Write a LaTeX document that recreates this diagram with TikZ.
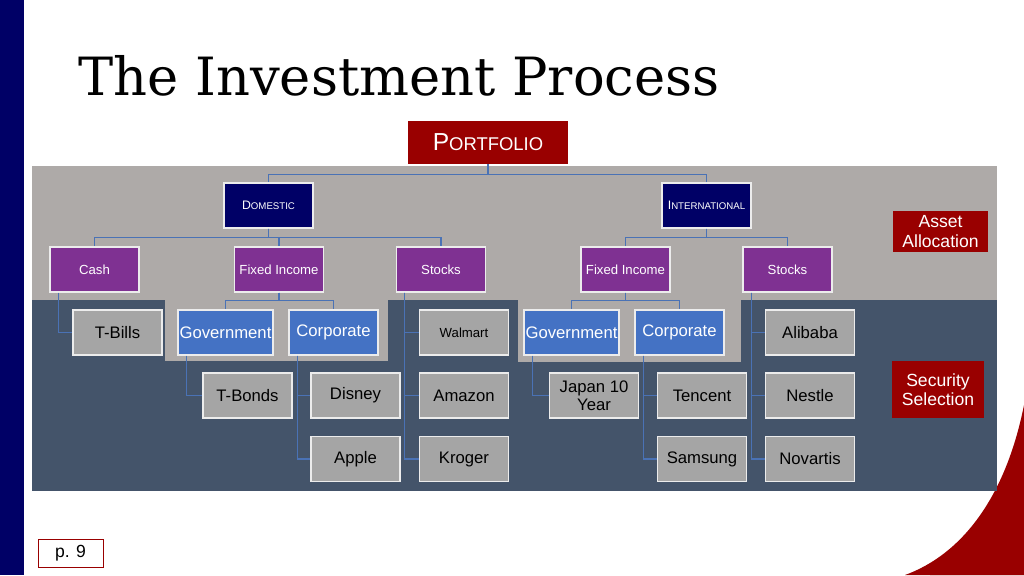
\documentclass[tikz,border=0pt]{standalone}
\usepackage{fontspec}
\setmainfont{Liberation Sans}
\newfontfamily\titlefont{DejaVu Serif}
\usetikzlibrary{calc, positioning}
\definecolor{navy}{HTML}{000066}
\definecolor{wine}{HTML}{990000}
\definecolor{plum}{HTML}{7F3192}
\definecolor{azure}{HTML}{4472C4}
\definecolor{slate}{HTML}{44546A}
\definecolor{stone}{HTML}{AEAAA8}
\definecolor{pebble}{HTML}{A5A5A5}
\definecolor{wire}{HTML}{4A72B5}
\tikzset{
  box/.style={draw=white!85!gray, line width=0.8pt, minimum width=1.78cm, minimum height=0.9cm, inner sep=1pt, align=center},
  region/.style={fill=navy, text=white, font=\fontsize{7}{8}\selectfont, box},
  asset/.style={fill=plum, text=white, font=\fontsize{7.5}{9}\selectfont, box},
  bond/.style={fill=azure, text=white, font=\fontsize{9.5}{11}\selectfont, box},
  pick/.style={fill=pebble, text=black, font=\fontsize{9.5}{10}\selectfont, box},
  tag/.style={fill=wine, text=white, font=\fontsize{10}{11}\selectfont, align=center, inner sep=2pt},
  link/.style={draw=wire, line width=0.7pt}
}
\newcommand{\fakesc}[2]{{\fontsize{#1}{#1}\selectfont\uppercase{#2}}}
\begin{document}
\begin{tikzpicture}[x=0.02cm, y=-0.02cm]
  \useasboundingbox (0,0) rectangle (1024,575);
  % slide background
  \fill[navy] (0,0) rectangle (24,575);
  \node[anchor=base west, font=\titlefont\fontsize{30}{32}\selectfont, inner sep=0pt] (title) at (78,95) {The Investment Process};
  \fill[wine] (1024,405) .. controls (1005,500) and (960,555) .. (905,575) -- (1024,575) -- cycle;
  \fill[white] (1024,470) .. controls (1010,520) and (990,550) .. (960,575) -- (1024,575) -- cycle;
  \fill[wine] (1024,440) .. controls (1012,510) and (970,555) .. (930,575) -- (1024,575) -- cycle;
  \node[draw=wine, line width=0.5pt, minimum width=1.3cm, minimum height=0.54cm, font=\fontsize{10}{11}\selectfont] (page) at (70.5,553.5) {p. 9};
  % bands
  \fill[stone] (32,166) rectangle (997,300);
  \fill[slate] (32,300) rectangle (997,491);
  \fill[stone] (165,300) rectangle (388,361);
  \fill[stone] (518,300) rectangle (741,362);
  % tree
  \node[tag, minimum width=3.2cm, minimum height=0.86cm, font=\fontsize{14}{15}\selectfont] (port) at (488,142.5) {P\fakesc{10.5}{ortfolio}};
  \node[region] (dom) at (268.5,205.5) {D\fakesc{5.5}{omestic}};
  \node[region] (intl) at (706.5,205.5) {I\fakesc{5.5}{nternational}};
  \node[asset] (cash) at (94.5,269.5) {Cash};
  \node[asset] (dfix) at (279,269.5) {Fixed Income};
  \node[asset] (dstk) at (441,269.5) {Stocks};
  \node[asset] (ifix) at (625.5,269.5) {Fixed Income};
  \node[asset] (istk) at (787.5,269.5) {Stocks};
  \node[bond] (dgov) at (225.5,332.5) {Government};
  \node[bond] (dcorp) at (333.5,332.5) {Corporate};
  \node[bond] (igov) at (571.5,332.5) {Government};
  \node[bond] (icorp) at (679.5,332.5) {Corporate};
  \node[pick] (tbills) at (117.5,332.5) {T-Bills};
  \node[pick, font=\fontsize{7.5}{9}\selectfont] (walmart) at (464,332.5) {Walmart};
  \node[pick] (alibaba) at (810,332.5) {Alibaba};
  \node[pick] (tbonds) at (247.5,395.5) {T-Bonds};
  \node[pick] (disney) at (355.5,395.5) {Disney};
  \node[pick] (amazon) at (464,395.5) {Amazon};
  \node[pick] (japan) at (594,395.5) {Japan 10\\Year};
  \node[pick] (tencent) at (702,395.5) {Tencent};
  \node[pick] (nestle) at (810,395.5) {Nestle};
  \node[pick] (apple) at (355.5,459) {Apple};
  \node[pick] (kroger) at (464,459) {Kroger};
  \node[pick] (samsung) at (702,459) {Samsung};
  \node[pick] (novartis) at (810,459) {Novartis};
  \node[tag, minimum width=1.9cm, minimum height=0.82cm] (alloc) at (940.5,231.5) {Asset\\Allocation};
  \node[tag, minimum width=1.84cm, minimum height=1.14cm] (select) at (938,389.5) {Security\\Selection};
  % connectors
  \draw[link] (port.south) -- ++(0,10) coordinate (pj) -| (dom.north);
  \draw[link] (pj) -| (intl.north);
  \foreach \kid in {cash, dfix, dstk}
    \draw[link] (dom.south) -- ++(0,9) -| (\kid.north);
  \foreach \kid in {ifix, istk}
    \draw[link] (intl.south) -- ++(0,9) -| (\kid.north);
  \foreach \kid in {dgov, dcorp}
    \draw[link] (dfix.south) -- ++(0,8) -| (\kid.north);
  \foreach \kid in {igov, icorp}
    \draw[link] (ifix.south) -- ++(0,8) -| (\kid.north);
  \draw[link] ($(cash.south west)+(9,0)$) |- (tbills.west);
  \draw[link] ($(dgov.south west)+(9,0)$) |- (tbonds.west);
  \draw[link] ($(igov.south west)+(9,0)$) |- (japan.west);
  \foreach \kid in {disney, apple}
    \draw[link] ($(dcorp.south west)+(9,0)$) |- (\kid.west);
  \foreach \kid in {tencent, samsung}
    \draw[link] ($(icorp.south west)+(9,0)$) |- (\kid.west);
  \foreach \kid in {walmart, amazon, kroger}
    \draw[link] ($(dstk.south west)+(9,0)$) |- (\kid.west);
  \foreach \kid in {alibaba, nestle, novartis}
    \draw[link] ($(istk.south west)+(9,0)$) |- (\kid.west);
\end{tikzpicture}
\end{document}
